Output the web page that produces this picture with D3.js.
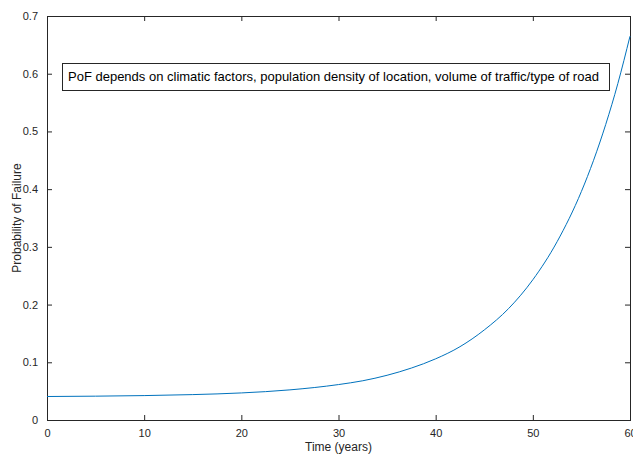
<!DOCTYPE html>
<html>
<head>
<meta charset="utf-8">
<script src="https://cdn.jsdelivr.net/npm/d3@7"></script>
<style>
  body { margin: 0; background: #fff; }
  text { font-family: "Liberation Sans", Arial, sans-serif; fill: #262626; }
</style>
</head>
<body>
<div id="chart"></div>
<script>
// data
var years = [0, 5, 10, 15, 20, 25, 30, 32.5, 35, 37.5, 40, 42.5, 45, 47.5, 50, 52.5, 55, 56.25, 57.5, 58.75, 60];
var pof   = [0.0407, 0.0413, 0.0423, 0.0440, 0.0469, 0.0522, 0.0614, 0.068, 0.0775, 0.090, 0.106, 0.127, 0.156, 0.193, 0.243, 0.309, 0.396, 0.450, 0.512, 0.583, 0.665];
var xTicks = [0, 10, 20, 30, 40, 50, 60];
var yTicks = [0, 0.1, 0.2, 0.3, 0.4, 0.5, 0.6, 0.7];
var note = "PoF depends on climatic factors, population density of location, volume of traffic/type of road";

var W = 633, H = 454;
var margin = {top: 16, right: 3, bottom: 34, left: 47};
var width = W - margin.left - margin.right,
    height = H - margin.top - margin.bottom;

var svg = d3.select("#chart").append("svg")
  .attr("width", W).attr("height", H);

var g = svg.append("g")
  .attr("transform", "translate(" + margin.left + "," + margin.top + ")");

var x = d3.scaleLinear().domain([0, 60]).range([0, width]);
var y = d3.scaleLinear().domain([0, 0.7]).range([height, 0]);

var data = years.map(function(t, i) { return {t: t, p: pof[i]}; });

// inward ticks like matlab
function styleAxis(sel) {
  sel.select(".domain").remove();
  sel.selectAll("line").attr("stroke", "#262626");
  sel.selectAll("text").style("font-size", "11px").attr("fill", "#262626");
}

g.append("g")
  .attr("transform", "translate(0," + height + ")")
  .call(d3.axisBottom(x).tickValues(xTicks).tickSize(-5).tickPadding(9).tickFormat(d3.format("d")))
  .call(styleAxis);

g.append("g")
  .call(d3.axisLeft(y).tickValues(yTicks).tickSize(-5).tickPadding(9).tickFormat(function(d) { return d === 0 ? "0" : d3.format(".1f")(d); }))
  .call(styleAxis);

// top and right ticks
g.append("g")
  .call(d3.axisTop(x).tickValues(xTicks).tickSize(-5).tickFormat(""))
  .call(styleAxis);
g.append("g")
  .attr("transform", "translate(" + width + ",0)")
  .call(d3.axisRight(y).tickValues(yTicks).tickSize(-5).tickFormat(""))
  .call(styleAxis);

// box
g.append("rect")
  .attr("x", 0).attr("y", 0)
  .attr("width", width).attr("height", height)
  .attr("fill", "none").attr("stroke", "#262626").attr("stroke-width", 1)
  .attr("shape-rendering", "crispEdges");

var line = d3.line()
  .x(function(d) { return x(d.t); })
  .y(function(d) { return y(d.p); })
  .curve(d3.curveMonotoneX);

g.append("path")
  .datum(data)
  .attr("d", line)
  .attr("fill", "none")
  .attr("stroke", "#0072BD")
  .attr("stroke-width", 1);

// annotation box
var ann = svg.append("g").attr("transform", "translate(62,63)");
ann.append("rect")
  .attr("width", 547).attr("height", 27)
  .attr("fill", "#fff").attr("stroke", "#262626")
  .attr("shape-rendering", "crispEdges");
ann.append("text")
  .attr("x", 6).attr("y", 18)
  .style("font-size", "13px")
  .attr("fill", "#000")
  .style("fill", "#000")
  .text(note);

// axis labels
svg.append("text")
  .attr("x", margin.left + width / 2).attr("y", 451)
  .attr("text-anchor", "middle")
  .style("font-size", "12px")
  .text("Time (years)");

svg.append("text")
  .attr("transform", "translate(21," + (margin.top + height / 2) + ") rotate(-90)")
  .attr("text-anchor", "middle")
  .style("font-size", "12px")
  .text("Probability of Failure");
</script>
</body>
</html>
